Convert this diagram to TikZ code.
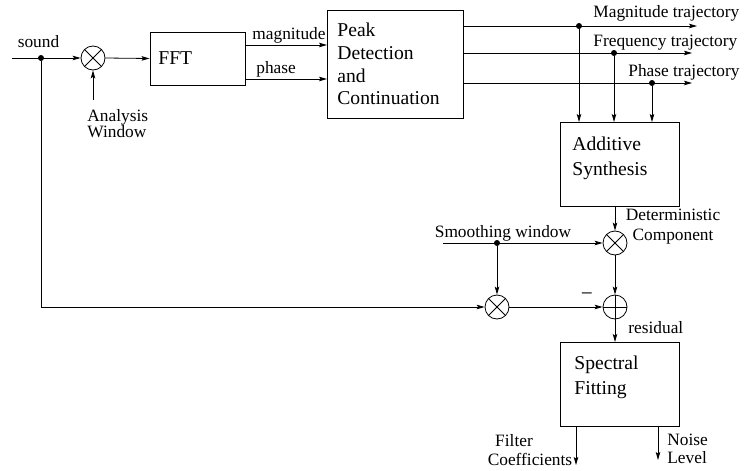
\documentclass[tikz,border=0pt]{standalone}
\usepackage{fontspec}
\setmainfont{Liberation Serif}
\usetikzlibrary{arrows.meta}
\begin{document}
\begin{tikzpicture}[x=0.75pt,y=-0.75pt,line width=0.6pt,
  >={Stealth[length=6pt,width=3.4pt,inset=1.2pt]},
  blk/.style={draw,line width=0.7pt,inner sep=0pt,minimum width=#1},
  mult/.style={circle,draw,minimum size=18pt,inner sep=0pt,
    path picture={\draw ([shift={(45:9pt)}]path picture bounding box.center) -- ([shift={(225:9pt)}]path picture bounding box.center);
                  \draw ([shift={(135:9pt)}]path picture bounding box.center) -- ([shift={(315:9pt)}]path picture bounding box.center);}},
  summ/.style={circle,draw,minimum size=18pt,inner sep=0pt,
    path picture={\draw ([shift={(0:9pt)}]path picture bounding box.center) -- ([shift={(180:9pt)}]path picture bounding box.center);
                  \draw ([shift={(90:9pt)}]path picture bounding box.center) -- ([shift={(270:9pt)}]path picture bounding box.center);}},
  lbl/.style={inner sep=0pt,font=\fontsize{13}{14}\selectfont},
  boxt/.style={inner sep=0pt,align=left,font=\fontsize{14.7}{#1}\selectfont},
  dot/.style={circle,fill,inner sep=0pt,minimum size=4.5pt}]
\useasboundingbox (0,0) rectangle (746,471);
% boxes
\node[blk=71.25pt,minimum height=39.75pt] (fft) at (197.5,58.5) {};
\node[blk=102pt,minimum height=81pt] (peak) at (395,64) {};
\node[blk=89.25pt,minimum height=63pt] (add) at (619.5,164) {};
\node[blk=89.25pt,minimum height=63pt] (spec) at (619.5,384) {};
\node[boxt=17pt,anchor=west] (tfft) at (158,58) {FFT};
\node[boxt=17pt,anchor=west] (tpeak) at (337,64) {Peak\\Detection\\and\\Continuation};
\node[boxt=18.75pt,anchor=west] (tadd) at (572,158.5) {Additive\\Synthesis};
\node[boxt=18.75pt,anchor=west] (tspec) at (574,377.5) {Spectral\\Fitting};
% circles
\node[mult] (m1) at (93,58) {};
\node[mult] (m2) at (615,243) {};
\node[mult] (m3) at (497,307) {};
\node[summ] (s1) at (615,307) {};
% coordinates
\coordinate (in) at (12,58);
\node[dot] (d0) at (41,58) {};
\coordinate (fb) at (41,307);
\coordinate (aw) at (93,100);
\coordinate (mi) at (327,45);
\coordinate (mo) at (245,45);
\coordinate (pi) at (327,79);
\coordinate (po) at (245,79);
\coordinate (o1s) at (463,26);
\coordinate (o2s) at (463,53);
\coordinate (o3s) at (463,83);
\coordinate (o1e) at (697,26);
\coordinate (o2e) at (692,53);
\coordinate (o3e) at (692,83);
\node[dot] (d1) at (579,26) {};
\node[dot] (d2) at (614,53) {};
\node[dot] (d3) at (652,83) {};
\coordinate (a1) at (579,122);
\coordinate (a2) at (614,122);
\coordinate (a3) at (652,122);
\coordinate (sw) at (443,243);
\node[dot] (d4) at (497,243) {};
\coordinate (spin) at (615,342);
\coordinate (f1s) at (576,426);
\coordinate (f1e) at (576,465);
\coordinate (f2s) at (658,426);
\coordinate (f2e) at (658,460);
% connectors
\draw[->] (in) -- (m1.west);
\draw[->] (aw) -- (m1.south);
\draw[->] (m1.east) -- (fft.west);
\draw[->] (mo) -- (mi);
\draw[->] (po) -- (pi);
\draw[->] (o1s) -- (o1e);
\draw[->] (o2s) -- (o2e);
\draw[->] (o3s) -- (o3e);
\draw[->] (d1) -- (a1);
\draw[->] (d2) -- (a2);
\draw[->] (d3) -- (a3);
\draw[->] (add.south -| m2) -- (m2.north);
\draw[->] (sw) -- (m2.west);
\draw[->] (d4) -- (m3.north);
\draw[->] (m2.south) -- (s1.north);
\draw[->] (d0) -- (fb) -- (m3.west);
\draw[->] (m3.east) -- (s1.west);
\draw[->] (s1.south) -- (spin);
\draw[->] (f1s) -- (f1e);
\draw[->] (f2s) -- (f2e);
% labels
\node[lbl] (lsound) at (38.5,42) {sound};
\node[lbl,anchor=west,align=left,font=\fontsize{13}{12}\selectfont] (law) at (87,124) {Analysis\\Window};
\node[lbl,anchor=west] (lmag) at (252,35) {magnitude};
\node[lbl,anchor=west] (lph) at (256,69) {phase};
\node[lbl,anchor=west] (lmt) at (593,13) {Magnitude trajectory};
\node[lbl,anchor=west] (lft) at (593,43) {Frequency trajectory};
\node[lbl,anchor=west] (lpt) at (628,72) {Phase trajectory};
\node[lbl] (lsw) at (503,233) {Smoothing window};
\node[lbl,align=center,font=\fontsize{13}{15}\selectfont] (ldc) at (673,227) {Deterministic\\Component};
\node[lbl,font=\fontsize{16}{16}\selectfont] (lminus) at (587,297) {−};
\node[lbl,anchor=west] (lres) at (628,328) {residual};
\node[lbl] (lfil) at (514,441) {Filter};
\node[lbl] (lcoef) at (530,459) {Coefficients};
\node[lbl,anchor=west,align=left,font=\fontsize{13}{13.5}\selectfont] (lnl) at (667,449) {Noise\\Level};
\end{tikzpicture}
\end{document}
